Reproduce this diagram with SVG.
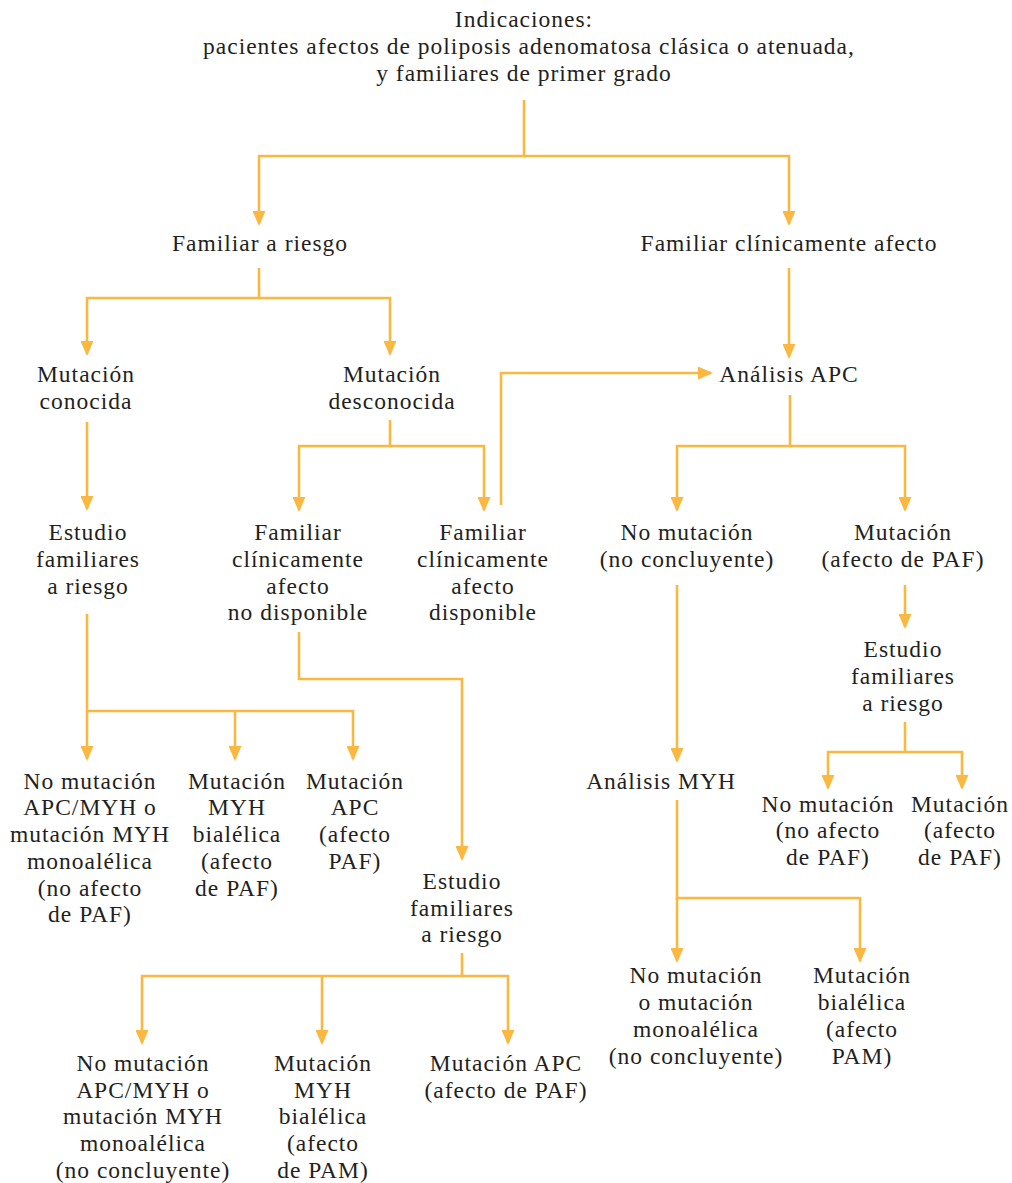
<svg xmlns="http://www.w3.org/2000/svg" width="1012" height="1183" viewBox="0 0 1012 1183" font-family="Liberation Serif, Times New Roman, serif">
  <style>
    text { font-family: "Liberation Serif", "Times New Roman", serif; font-size: 23.5px; fill: #231f20; text-anchor: middle; letter-spacing: 1px; }
    .wire { fill: none; stroke: #fbb840; stroke-width: 2.6; }
  </style>
  <defs>
    <marker id="arrow" viewBox="0 0 15 13" markerWidth="15" markerHeight="13" refX="13" refY="6.5" orient="auto" markerUnits="userSpaceOnUse">
      <path d="M0,0 L15,6.5 L0,13 z" fill="#fbb840"/>
    </marker>
  </defs>
  <rect width="1012" height="1183" fill="#ffffff"/>

  <g id="connectors">
    <!-- root split -->
    <path class="wire" d="M524,100 V156 H259 V224" marker-end="url(#arrow)"/>
    <path class="wire" d="M524,156 H789 V224" marker-end="url(#arrow)"/>
    <!-- Familiar a riesgo split -->
    <path class="wire" d="M259,268 V298 H87 V354" marker-end="url(#arrow)"/>
    <path class="wire" d="M259,298 H390 V354" marker-end="url(#arrow)"/>
    <!-- Familiar clinicamente afecto -> Analisis APC -->
    <path class="wire" d="M789,268 V357" marker-end="url(#arrow)"/>
    <!-- Mutacion conocida -> Estudio -->
    <path class="wire" d="M87,422 V509" marker-end="url(#arrow)"/>
    <!-- Mutacion desconocida split -->
    <path class="wire" d="M390,420 V446 H299 V510" marker-end="url(#arrow)"/>
    <path class="wire" d="M390,446 H484 V510" marker-end="url(#arrow)"/>
    <!-- disponible -> Analisis APC -->
    <path class="wire" d="M501,505 V373 H711" marker-end="url(#arrow)"/>
    <!-- Analisis APC split -->
    <path class="wire" d="M790,395 V446 H677 V510" marker-end="url(#arrow)"/>
    <path class="wire" d="M790,446 H905 V510" marker-end="url(#arrow)"/>
    <!-- Mutacion (afecto de PAF) -> Estudio -->
    <path class="wire" d="M905,585 V627" marker-end="url(#arrow)"/>
    <!-- right Estudio split -->
    <path class="wire" d="M905,722 V752 H828 V788" marker-end="url(#arrow)"/>
    <path class="wire" d="M905,752 H962 V788" marker-end="url(#arrow)"/>
    <!-- left Estudio split -->
    <path class="wire" d="M87,614 V711 H353 V759" marker-end="url(#arrow)"/>
    <path class="wire" d="M87,711 V759" marker-end="url(#arrow)"/>
    <path class="wire" d="M235,711 V759" marker-end="url(#arrow)"/>
    <!-- no disponible -> Estudio -->
    <path class="wire" d="M299,632 V679 H462 V859" marker-end="url(#arrow)"/>
    <!-- middle Estudio split -->
    <path class="wire" d="M462,953 V976 H142 V1043" marker-end="url(#arrow)"/>
    <path class="wire" d="M462,976 H508 V1043" marker-end="url(#arrow)"/>
    <path class="wire" d="M322,976 V1043" marker-end="url(#arrow)"/>
    <!-- No mutacion (no concluyente) -> Analisis MYH -->
    <path class="wire" d="M677,585 V761" marker-end="url(#arrow)"/>
    <!-- Analisis MYH split -->
    <path class="wire" d="M677,800 V898 H860 V961" marker-end="url(#arrow)"/>
    <path class="wire" d="M677,898 V961" marker-end="url(#arrow)"/>
  </g>

  <g id="indicaciones">
    <text x="524" y="27">Indicaciones:</text>
    <text x="529" y="54">pacientes afectos de poliposis adenomatosa clásica o atenuada,</text>
    <text x="524" y="81">y familiares de primer grado</text>
  </g>
  <g id="familiar-riesgo"><text x="260" y="251">Familiar a riesgo</text></g>
  <g id="familiar-afecto"><text x="789" y="251">Familiar clínicamente afecto</text></g>
  <g id="mutacion-conocida">
    <text x="86" y="382">Mutación</text>
    <text x="86" y="409">conocida</text>
  </g>
  <g id="mutacion-desconocida">
    <text x="392" y="382">Mutación</text>
    <text x="392" y="409">desconocida</text>
  </g>
  <g id="analisis-apc"><text x="789" y="382">Análisis APC</text></g>
  <g id="estudio-izq">
    <text x="88" y="540">Estudio</text>
    <text x="88" y="567">familiares</text>
    <text x="88" y="594">a riesgo</text>
  </g>
  <g id="no-disponible">
    <text x="298" y="540">Familiar</text>
    <text x="298" y="567">clínicamente</text>
    <text x="298" y="594">afecto</text>
    <text x="298" y="620">no disponible</text>
  </g>
  <g id="disponible">
    <text x="483" y="540">Familiar</text>
    <text x="483" y="567">clínicamente</text>
    <text x="483" y="594">afecto</text>
    <text x="483" y="620">disponible</text>
  </g>
  <g id="no-mutacion-apc">
    <text x="687" y="540">No mutación</text>
    <text x="687" y="567">(no concluyente)</text>
  </g>
  <g id="mutacion-apc">
    <text x="903" y="540">Mutación</text>
    <text x="903" y="567">(afecto de PAF)</text>
  </g>
  <g id="estudio-der">
    <text x="903" y="657">Estudio</text>
    <text x="903" y="684">familiares</text>
    <text x="903" y="711">a riesgo</text>
  </g>
  <g id="der-no-mutacion">
    <text x="828" y="812">No mutación</text>
    <text x="828" y="838">(no afecto</text>
    <text x="828" y="865">de PAF)</text>
  </g>
  <g id="der-mutacion">
    <text x="960" y="812">Mutación</text>
    <text x="960" y="838">(afecto</text>
    <text x="960" y="865">de PAF)</text>
  </g>
  <g id="izq-no-mutacion">
    <text x="90" y="789">No mutación</text>
    <text x="90" y="815">APC/MYH o</text>
    <text x="90" y="842">mutación MYH</text>
    <text x="90" y="869">monoalélica</text>
    <text x="90" y="896">(no afecto</text>
    <text x="90" y="922">de PAF)</text>
  </g>
  <g id="izq-myh">
    <text x="237" y="789">Mutación</text>
    <text x="237" y="815">MYH</text>
    <text x="237" y="842">bialélica</text>
    <text x="237" y="869">(afecto</text>
    <text x="237" y="896">de PAF)</text>
  </g>
  <g id="izq-apc">
    <text x="355" y="789">Mutación</text>
    <text x="355" y="815">APC</text>
    <text x="355" y="842">(afecto</text>
    <text x="355" y="869">PAF)</text>
  </g>
  <g id="estudio-centro">
    <text x="462" y="889">Estudio</text>
    <text x="462" y="916">familiares</text>
    <text x="462" y="942">a riesgo</text>
  </g>
  <g id="centro-no-mutacion">
    <text x="143" y="1071">No mutación</text>
    <text x="143" y="1098">APC/MYH o</text>
    <text x="143" y="1124">mutación MYH</text>
    <text x="143" y="1151">monoalélica</text>
    <text x="143" y="1178">(no concluyente)</text>
  </g>
  <g id="centro-myh">
    <text x="323" y="1071">Mutación</text>
    <text x="323" y="1098">MYH</text>
    <text x="323" y="1124">bialélica</text>
    <text x="323" y="1151">(afecto</text>
    <text x="323" y="1178">de PAM)</text>
  </g>
  <g id="centro-apc">
    <text x="506" y="1071">Mutación APC</text>
    <text x="506" y="1098">(afecto de PAF)</text>
  </g>
  <g id="analisis-myh"><text x="661" y="789">Análisis MYH</text></g>
  <g id="myh-no-mutacion">
    <text x="696" y="983">No mutación</text>
    <text x="696" y="1010">o mutación</text>
    <text x="696" y="1037">monoalélica</text>
    <text x="696" y="1064">(no concluyente)</text>
  </g>
  <g id="myh-bialelica">
    <text x="862" y="983">Mutación</text>
    <text x="862" y="1010">bialélica</text>
    <text x="862" y="1037">(afecto</text>
    <text x="862" y="1064">PAM)</text>
  </g>
</svg>
